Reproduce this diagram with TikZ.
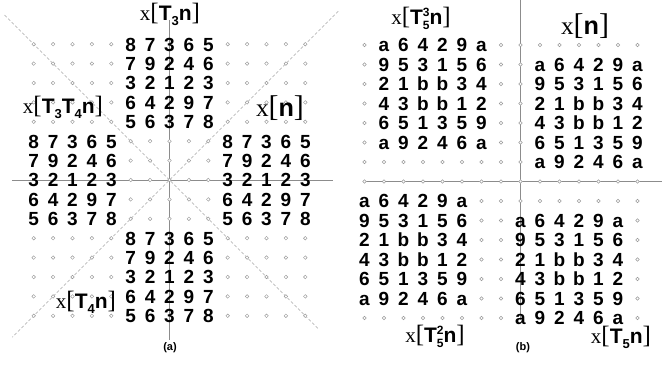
\documentclass[tikz,border=0pt]{standalone}
\usepackage{fontspec}
\setmainfont{Liberation Serif}
\setsansfont{Liberation Sans}
% signal label: serif x and brackets, bold sans inside
\newcommand{\sig}[1]{{\fontsize{21}{21}\selectfont x}{\fontsize{25}{25}\selectfont[}{\sffamily\bfseries\fontsize{21}{21}\selectfont #1}{\fontsize{25}{25}\selectfont]}}
\newcommand{\sbs}[1]{\raisebox{-5pt}{\fontsize{13}{13}\selectfont #1}}
\newcommand{\sbsp}[2]{\rlap{\raisebox{8pt}{\fontsize{12}{12}\selectfont #2}}\raisebox{-5pt}{\fontsize{12}{12}\selectfont #1}}
\def\dataa{{8,7,3,6,5},{7,9,2,4,6},{3,2,1,2,3},{6,4,2,9,7},{5,6,3,7,8}}
\def\datab{{a,6,4,2,9,a},{9,5,3,1,5,6},{2,1,b,b,3,4},{4,3,b,b,1,2},{6,5,1,3,5,9},{a,9,2,4,6,a}}
\newcommand{\digblock}[4]{%
  \foreach \rowdata [count=\rw from 0] in #4 {
    \foreach \ch [count=\cl from 0] in \rowdata {
      \node[digitnode] (#1-\cl-\rw) at (#2+\cl,#3+\rw) {\ch};
    }
  }%
}
\begin{document}
\begin{tikzpicture}[x=1pt,y=-1pt,
    axisline/.style={draw=gray!90,line width=0.7pt},
    diagline/.style={draw=gray!70,line width=0.5pt,dash pattern=on 3pt off 2pt},
    gridpt/.style={draw=gray!80,fill=white,line width=0.45pt},
    digitnode/.style={inner sep=0pt,text height=13.7pt,text depth=0pt,font=\sffamily\bfseries\fontsize{19}{19}\selectfont},
    signode/.style={inner sep=0pt},
    capnode/.style={inner sep=0pt,font=\sffamily\bfseries\fontsize{11}{11}\selectfont}]
  \useasboundingbox (0,0) rectangle (662,375);

  % (a)
  \begin{scope}[shift={(169.5,180)},x=19.4pt,y=-19.4pt]
    \draw[diagline] (-8.5,-8.5) -- (7.7,7.7);
    \draw[diagline] (8.7,-8.7) -- (-8.1,8.1);
    \draw[axisline] (-8.12,0) -- (8.43,0);
    \draw[axisline] (0,-8.25) -- (0,8.25);
    \foreach \i in {-7,-6,-5,-4,-3,3,4,5,6,7}
      \foreach \j in {-7,-6,-5,-4,-3,3,4,5,6,7}
        \draw[gridpt] (\i,\j) circle[radius=1.8pt];
    \foreach \i in {-2,...,2}
      \foreach \j in {-2,...,2}
        \draw[gridpt] (\i,\j) circle[radius=1.8pt];
    \digblock{up}{-2}{-7}{\dataa}
    \digblock{lf}{-7}{-2}{\dataa}
    \digblock{rt}{3}{-2}{\dataa}
    \digblock{dn}{-2}{3}{\dataa}
  \end{scope}
  \node[signode] (sa) at (170,14) {\sig{T\sbs{3}n}};
  \node[signode] (sb) at (63,107) {\sig{T\sbs{3}T\sbs{4}n}};
  \node[signode] (sc) at (280,108) {\scalebox{1.2}{\sig{n}}};
  \node[signode] (sd) at (86,302) {\sig{T\sbs{4}n}};
  \node[capnode] (capa) at (170,348) {(a)};

  % (b)
  \begin{scope}[shift={(520.5,181.5)},x=19.5pt,y=-19.5pt]
    \draw[axisline] (-8,0) -- (7.3,0);
    \draw[axisline] (0,-9.3) -- (0,7.1);
    \foreach \i in {-8,...,6}
      \draw[gridpt] (\i,0) circle[radius=1.8pt];
    \foreach \j in {-7,...,-1} {
      \draw[gridpt] (-8,\j) circle[radius=1.8pt];
      \draw[gridpt] (-1,\j) circle[radius=1.8pt];
      \draw[gridpt] (0,\j) circle[radius=1.8pt];
    }
    \foreach \i in {-7,...,-2}
      \draw[gridpt] (\i,-1) circle[radius=1.8pt];
    \foreach \i in {1,...,6}
      \draw[gridpt] (\i,-7) circle[radius=1.8pt];
    \foreach \j in {1,...,7} {
      \draw[gridpt] (-2,\j) circle[radius=1.8pt];
      \draw[gridpt] (-1,\j) circle[radius=1.8pt];
    }
    \foreach \i in {-8,...,-3}
      \draw[gridpt] (\i,7) circle[radius=1.8pt];
    \foreach \i in {0,...,6}
      \draw[gridpt] (\i,1) circle[radius=1.8pt];
    \foreach \j in {2,...,7}
      \draw[gridpt] (6,\j) circle[radius=1.8pt];
    \digblock{tl}{-7}{-7}{\datab}
    \digblock{tr}{1}{-6}{\datab}
    \digblock{bl}{-8}{1}{\datab}
    \digblock{br}{0}{2}{\datab}
  \end{scope}
  \node[signode] (se) at (421,18) {\sig{T\sbsp{5}{3}n}};
  \node[signode] (sf) at (585,26) {\scalebox{1.2}{\sig{n}}};
  \node[signode] (sg) at (435,336) {\sig{T\sbsp{5}{2}n}};
  \node[signode] (sh) at (621,337) {\sig{T\sbs{5}n}};
  \node[capnode] (capb) at (523,348) {(b)};
\end{tikzpicture}
\end{document}
